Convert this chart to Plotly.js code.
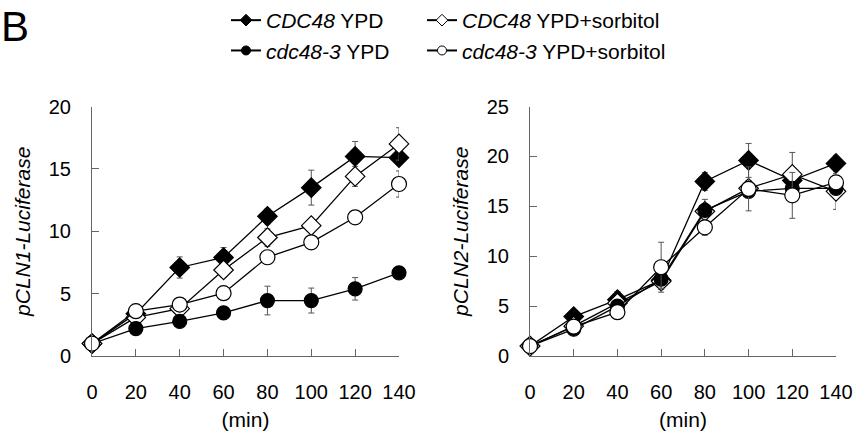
<!DOCTYPE html>
<html>
<head>
<meta charset="utf-8">
<script src="https://cdn.plot.ly/plotly-3.0.1.min.js"></script>
<style>html,body{margin:0;padding:0;background:#fff;}#chart{width:856px;height:438px;}</style>
</head>
<body>
<div id="chart"></div>
<script>
// time points (min)
const minutes = [0, 20, 40, 60, 80, 100, 120, 140];
const xTicks = [0, 20, 40, 60, 80, 100, 120, 140];

// pCLN1-Luciferase (left panel)
const cln1_CDC48_YPD      = [1, 3.4, 7.1, 7.9, 11.2, 13.5, 16.0, 15.9];
const cln1_CDC48_YPD_err  = [0, 0.2, 0.85, 0.8, 0.6, 1.4, 1.2, 0.3];
const cln1_CDC48_SOR      = [1, 3.1, 3.8, 6.9, 9.5, 10.45, 14.4, 17.0];
const cln1_CDC48_SOR_err  = [0, 0.2, 0.2, 0.6, 0.7, 0.4, 0.8, 1.3];
const cln1_cdc483_YPD     = [1, 2.2, 2.78, 3.47, 4.45, 4.45, 5.39, 6.67];
const cln1_cdc483_YPD_err = [0, 0.1, 0.35, 0.5, 1.15, 1.0, 0.9, 0.2];
const cln1_cdc483_SOR     = [1, 3.6, 4.13, 5.04, 7.92, 9.12, 11.12, 13.79];
const cln1_cdc483_SOR_err = [0, 0.1, 0.1, 0.3, 0.3, 0.3, 0.2, 1.05];

// pCLN2-Luciferase (right panel)
const cln2_CDC48_YPD      = [1, 3.96, 5.65, 7.6, 17.5, 19.6, 17.6, 19.3];
const cln2_CDC48_YPD_err  = [0, 0.2, 0.8, 0.8, 0.9, 1.7, 0.5, 0.8];
const cln2_CDC48_SOR      = [1, 3.0, 5.3, 7.5, 14.5, 16.8, 18.2, 16.5];
const cln2_CDC48_SOR_err  = [0, 0.2, 0.5, 0.8, 1.2, 0.8, 2.2, 1.8];
const cln2_cdc483_YPD     = [1, 2.7, 5.0, 7.7, 14.6, 16.5, 16.8, 16.8];
const cln2_cdc483_YPD_err = [0, 0.2, 0.4, 0.9, 0.5, 0.6, 0.6, 0.6];
const cln2_cdc483_SOR     = [1, 2.96, 4.4, 8.9, 12.9, 16.75, 16.1, 17.4];
const cln2_cdc483_SOR_err = [0, 0.2, 0.3, 2.5, 0.8, 2.2, 2.3, 0.6];

const seriesNames = [
  '<i>CDC48</i> YPD',
  '<i>CDC48</i> YPD+sorbitol',
  '<i>cdc48-3</i> YPD',
  '<i>cdc48-3</i> YPD+sorbitol'
];

const W = 856, H = 438;
const px = v => v / W;
const py = v => 1 - v / H;
const FONT = 'Liberation Sans, Arial, sans-serif';

const styles = [
  {symbol: 'diamond', color: '#000', size: 15, legend: 'legend'},
  {symbol: 'diamond', color: '#fff', size: 15, legend: 'legend2'},
  {symbol: 'circle', color: '#000', size: 14, legend: 'legend'},
  {symbol: 'circle', color: '#fff', size: 15, legend: 'legend2'}
];

function mk(y, err, i, xa, ya) {
  const s = styles[i];
  return {
    x: minutes, y: y, xaxis: xa, yaxis: ya,
    type: 'scatter', mode: 'lines+markers', name: seriesNames[i],
    showlegend: false, cliponaxis: false,
    line: {color: '#000', width: 1.3},
    marker: {symbol: s.symbol, size: s.size, color: s.color, line: {color: '#000', width: 1.2}},
    error_y: {type: 'data', array: err, visible: true, color: '#555', thickness: 1, width: 3}
  };
}
// legend-only entries (small key markers, no data marks)
function key(i) {
  const s = styles[i];
  return {
    x: [null], y: [null], type: 'scatter', mode: 'lines+markers',
    name: seriesNames[i], legend: s.legend, showlegend: true,
    line: {color: '#000', width: 2},
    marker: {symbol: s.symbol, size: 9, color: s.color, line: {color: '#000', width: 1}}
  };
}

const data = [
  mk(cln1_CDC48_YPD, cln1_CDC48_YPD_err, 0, 'x', 'y'),
  mk(cln1_CDC48_SOR, cln1_CDC48_SOR_err, 1, 'x', 'y'),
  mk(cln1_cdc483_YPD, cln1_cdc483_YPD_err, 2, 'x', 'y'),
  mk(cln1_cdc483_SOR, cln1_cdc483_SOR_err, 3, 'x', 'y'),
  mk(cln2_CDC48_YPD, cln2_CDC48_YPD_err, 0, 'x2', 'y2'),
  mk(cln2_CDC48_SOR, cln2_CDC48_SOR_err, 1, 'x2', 'y2'),
  mk(cln2_cdc483_YPD, cln2_cdc483_YPD_err, 2, 'x2', 'y2'),
  mk(cln2_cdc483_SOR, cln2_cdc483_SOR_err, 3, 'x2', 'y2'),
  key(0), key(1), key(2), key(3)
];

function xAxis(dom, anchor) {
  return {
    domain: dom, anchor: anchor, range: [0, 140], tickvals: xTicks,
    ticks: 'inside', ticklen: 7, tickcolor: '#666', tickwidth: 1,
    showline: true, linecolor: '#666', linewidth: 1,
    showgrid: false, zeroline: false, fixedrange: true,
    ticklabelstandoff: 18,
    tickfont: {family: FONT, size: 20, color: '#000'},
    title: {text: '(min)', standoff: 10, font: {family: FONT, size: 21, color: '#000'}}
  };
}
function yAxis(dom, anchor, max, title) {
  return {
    domain: dom, anchor: anchor, range: [0, max], dtick: 5, tick0: 0,
    ticks: 'inside', ticklen: 7, tickcolor: '#666', tickwidth: 1,
    showline: true, linecolor: '#666', linewidth: 1,
    showgrid: false, zeroline: false, fixedrange: true,
    ticklabelstandoff: 16,
    tickfont: {family: FONT, size: 20, color: '#000'},
    title: {text: title, standoff: 12, font: {family: FONT, size: 21, color: '#000'}}
  };
}

const yDom = [py(355.7), py(105)];
const legendBase = {
  y: py(-2), xanchor: 'left', yanchor: 'top',
  orientation: 'v', bgcolor: 'rgba(0,0,0,0)',
  font: {family: FONT, size: 21, color: '#000'},
  itemsizing: 'trace', itemwidth: 30, tracegroupgap: 0
};
const layout = {
  width: W, height: H,
  margin: {l: 0, r: 0, t: 0, b: 0},
  paper_bgcolor: '#fff', plot_bgcolor: '#fff',
  font: {family: FONT, color: '#000'},
  xaxis: xAxis([px(92), px(399)], 'y'),
  yaxis: yAxis(yDom, 'x', 20, '<i>pCLN1-Luciferase</i>'),
  xaxis2: xAxis([px(530), px(836)], 'y2'),
  yaxis2: yAxis(yDom, 'x2', 25, '<i>pCLN2-Luciferase</i>'),
  legend: Object.assign({x: px(226)}, legendBase),
  legend2: Object.assign({x: px(422)}, legendBase),
  annotations: [{
    text: 'B', xref: 'paper', yref: 'paper', x: 0, y: 1,
    xanchor: 'left', yanchor: 'top', showarrow: false, borderpad: 0,
    font: {family: FONT, size: 42, color: '#000'}
  }]
};

Plotly.newPlot('chart', data, layout, {displayModeBar: false, staticPlot: true});
</script>
</body>
</html>
